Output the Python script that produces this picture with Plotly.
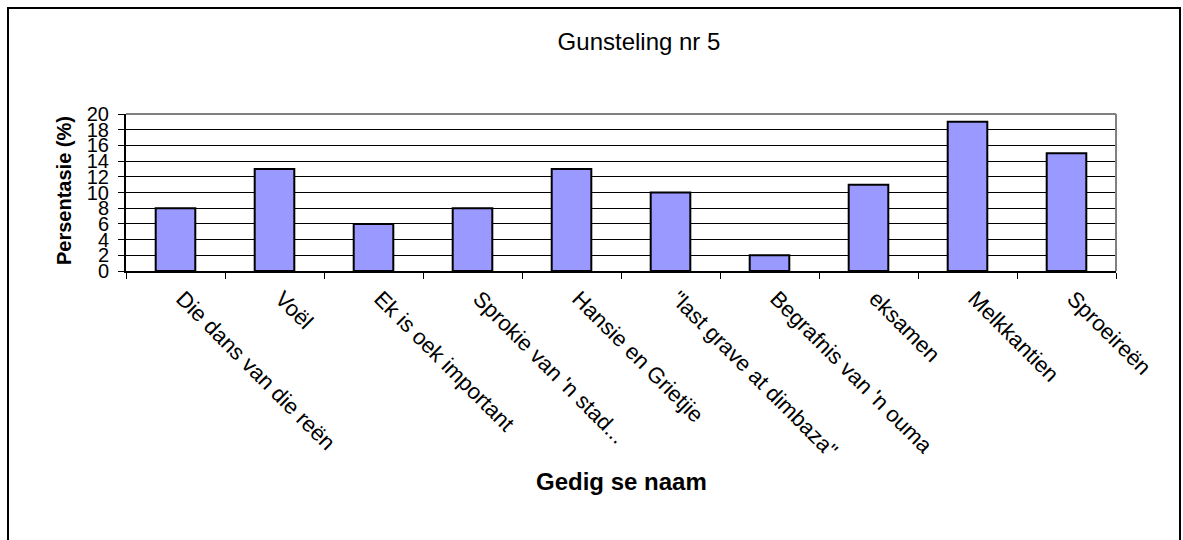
import plotly.graph_objects as go

categories = ["Die dans van die reën", "Voël", "Ek is oek important", "Sprokie van 'n stad...",
              "Hansie en Grietjie", "\"last grave at dimbaza\"", "Begrafnis van 'n ouma",
              "eksamen", "Melkkantien", "Sproeireën"]
values = [8, 13, 6, 8, 13, 10, 2, 11, 19, 15]
y_ticks = list(range(0, 21, 2))

W, H = 1183, 540
L, R, T, B = 126, 1116, 114, 271
pw, ph = R - L, B - T

def px(x):
    return (x - L) / pw

def py(y):
    return (B - y) / ph

fig = go.Figure()
fig.add_trace(go.Bar(
    x=categories, y=values,
    marker=dict(color="#9999FF", line=dict(color="black", width=2)),
))

font = "Liberation Sans, Arial, sans-serif"
fig.update_layout(
    width=W, height=H,
    margin=dict(l=L, r=W - R, t=T, b=H - B),
    paper_bgcolor="white", plot_bgcolor="white",
    bargap=0.6,
    showlegend=False,
    font=dict(family=font, color="black"),
    title=dict(text="Gunsteling nr 5", x=639 / W, xanchor="center", y=1 - 42 / H, yanchor="middle",
               font=dict(size=24, family=font, color="black")),
    xaxis=dict(
        type="category", tickangle=45, tickfont=dict(size=22, family=font),
        ticks="outside", tickson="boundaries", ticklen=6, tickcolor="black",
        ticklabelshift=7, ticklabelstandoff=4,
        showline=True, linecolor="black", linewidth=2, showgrid=False,
        automargin=False,
    ),
    yaxis=dict(
        range=[0, 20], tickvals=y_ticks, ticktext=[str(v) for v in y_ticks],
        tickfont=dict(size=20, family=font), ticks="outside", ticklen=6, tickcolor="black",
        ticklabelstandoff=5,
        showline=True, linecolor="black", linewidth=2,
        showgrid=True, gridcolor="black", gridwidth=1, zeroline=False,
        automargin=False,
    ),
    annotations=[
        dict(text="<b>Gedig se naam</b>", xref="paper", yref="paper", x=px(621), y=py(481),
             xanchor="center", yanchor="middle", showarrow=False, font=dict(size=24, family=font)),
        dict(text="<b>Persentasie (%)</b>", xref="paper", yref="paper", x=px(64), y=py(191),
             xanchor="center", yanchor="middle", textangle=-90, showarrow=False,
             font=dict(size=20, family=font)),
    ],
)

# gray top and right border of the plot area
fig.add_shape(type="line", xref="paper", yref="paper", x0=0, x1=1, y0=1, y1=1,
              line=dict(color="#808080", width=2))
fig.add_shape(type="line", xref="paper", yref="paper", x0=1, x1=1, y0=0, y1=1,
              line=dict(color="#808080", width=2))
# outer chart frame
fig.add_shape(type="rect", xref="paper", yref="paper", x0=px(8), x1=px(1180), y0=py(8), y1=py(560),
              line=dict(color="black", width=2), fillcolor="rgba(0,0,0,0)", layer="below")

fig.write_html("out.html")
